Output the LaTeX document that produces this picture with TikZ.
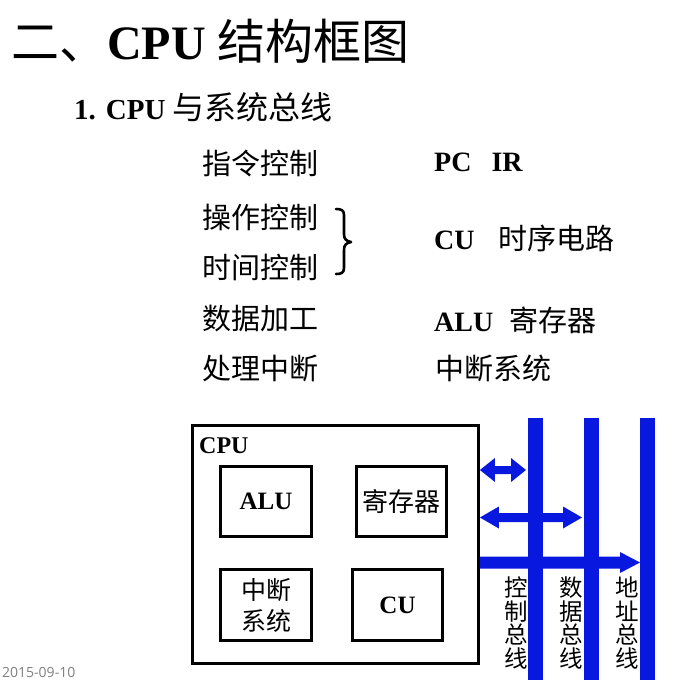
\documentclass[tikz,border=0pt]{standalone}
\usepackage{fontspec}
\setmainfont{Liberation Serif}
\newfontfamily\cjk{Noto Sans CJK SC}
\newfontfamily\datefont{Open Sans}
\usetikzlibrary{calc}
\definecolor{busblue}{RGB}{8,24,222}
\newcommand{\fsz}[1]{\fontsize{#1}{#1}\selectfont}
% two-headed bus arrow: from #1 to #2, head length #3, head half-width #4, shaft half-width #5
\newcommand{\twoway}[5]{%
  \fill[busblue] let \p1=#1, \p2=#2 in
    (\x1,\y1) -- ({\x1+#3},{\y1+#4}) -- ({\x1+#3},{\y1+#5}) -- ({\x2-#3},{\y1+#5})
    -- ({\x2-#3},{\y1+#4}) -- (\x2,\y1) -- ({\x2-#3},{\y1-#4}) -- ({\x2-#3},{\y1-#5})
    -- ({\x1+#3},{\y1-#5}) -- ({\x1+#3},{\y1-#4}) -- cycle;}
% one-headed bus arrow, same arguments
\newcommand{\oneway}[5]{%
  \fill[busblue] let \p1=#1, \p2=#2 in
    (\x1,{\y1+#5}) -- ({\x2-#3},{\y1+#5}) -- ({\x2-#3},{\y1+#4}) -- (\x2,\y1)
    -- ({\x2-#3},{\y1-#4}) -- ({\x2-#3},{\y1-#5}) -- (\x1,{\y1-#5}) -- cycle;}
\begin{document}
\begin{tikzpicture}[x=1pt,y=-1pt,
  txt/.style={inner sep=0pt,anchor=west},
  unit/.style={draw,line width=2.8pt,inner sep=0pt},
  bus/.style={fill=busblue,inner sep=0pt,outer sep=0pt,minimum width=15pt,minimum height=262pt},
  buslabel/.style={inner sep=0pt,align=center,font=\cjk\fontsize{23.5}{23.5}\selectfont}]
\fill[white] (0,0) rectangle (684,690);
\useasboundingbox (0,0) rectangle (684,690);

% headings
\node[txt] (title) at (11,41) {\fsz{48}{\cjk 二、}\textbf{CPU} {\cjk 结构框图}};
\node[txt] (sub) at (74,107) {\fsz{29}\textbf{1.}\hspace{10pt}\textbf{CPU} {\cjk\fontsize{32}{32}\selectfont 与系统总线}};

% functions and the parts that realise them
\node[txt] (f1) at (202,163) {\fsz{29}\cjk 指令控制};
\node[txt] (f2) at (202,217) {\fsz{29}\cjk 操作控制};
\node[txt] (f3) at (202,267) {\fsz{29}\cjk 时间控制};
\node[txt] (f4) at (202,319) {\fsz{29}\cjk 数据加工};
\node[txt] (f5) at (202,369) {\fsz{29}\cjk 处理中断};

\node[txt] (p1) at (434,162) {\fsz{28}\textbf{PC}\hspace{20pt}\textbf{IR}};
\node[txt] (p2) at (434,238) {\fsz{28}\textbf{CU}\hspace{24pt}{\cjk\fontsize{29}{29}\selectfont 时序电路}};
\node[txt] (p3) at (434,320) {\fsz{28}\textbf{ALU}\hspace{16pt}{\cjk\fontsize{29}{29}\selectfont 寄存器}};
\node[txt] (p4) at (435,368) {\fsz{29}\cjk 中断系统};

% brace grouping the two control lines
\draw[line width=2.6pt,line cap=round,line join=round]
  (336,209) .. controls (341,209) and (344,210) .. (344,215) -- (344,234)
  .. controls (344,239) and (346,241) .. (351,242)
  .. controls (346,243) and (344,245) .. (344,250) -- (344,268)
  .. controls (344,273) and (341,274) .. (336,274);

% CPU and its units
\node[unit,minimum width=286pt,minimum height=238pt] (cpu) at (335.5,544.5) {};
\node[inner sep=0pt,anchor=base west] (cpulabel) at (199,453) {\fsz{24}\textbf{CPU}};
\node[unit,minimum width=91pt,minimum height=70pt] (alu) at (266,501.5) {\fsz{25}\textbf{ALU}};
\node[unit,minimum width=90pt,minimum height=70pt] (reg) at (401.5,501.5) {\fsz{26}\cjk 寄存器};
\node[unit,minimum width=91pt,minimum height=71pt,align=center,font=\cjk\fontsize{25}{31}\selectfont] (intr) at (266,605) {中断\\系统};
\node[unit,minimum width=90pt,minimum height=71pt] (cu) at (397.5,605) {\fsz{25}\textbf{CU}};

% system buses
\node[bus] (cbus) at (535.5,549) {};
\node[bus] (dbus) at (591.5,549) {};
\node[bus] (abus) at (647.5,549) {};
\node[buslabel] (cbl) at (516,623) {控\\制\\总\\线};
\node[buslabel] (dbl) at (571,623) {数\\据\\总\\线};
\node[buslabel] (abl) at (627.5,623) {地\\址\\总\\线};

% CPU to bus connections
\coordinate (y1) at (0,470);
\coordinate (y2) at (0,517.5);
\coordinate (y3) at (0,562.5);
\twoway{(cpu.east |- y1)}{($(cbus.west |- y1)+(-2,0)$)}{15pt}{12pt}{4pt}
\twoway{(cpu.east |- y2)}{($(dbus.west |- y2)+(-2,0)$)}{19pt}{11pt}{4.5pt}
\oneway{(cpu.east |- y3)}{(abus.west |- y3)}{20pt}{10.5pt}{6pt}

\node[inner sep=0pt,anchor=west,text=black!50] (date) at (2,672) {\fsz{14}\datefont 2015-09-10};
\end{tikzpicture}
\end{document}
